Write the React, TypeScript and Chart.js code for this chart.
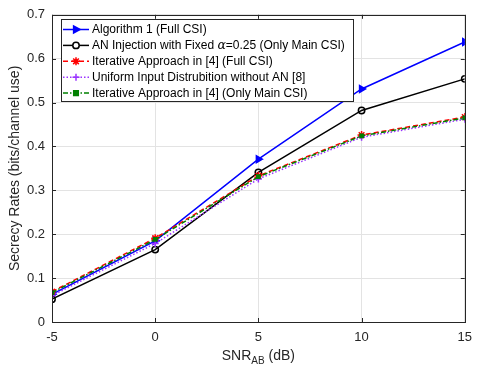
import React, { useEffect, useRef } from "react";
import { Chart, registerables } from "chart.js";

Chart.register(...registerables);

const snr = [-5, 0, 5, 10, 15];
const algorithm1 = [0.063, 0.185, 0.371, 0.531, 0.638];
const anFixed = [0.052, 0.165, 0.341, 0.482, 0.554];
const iterFull = [0.069, 0.191, 0.333, 0.426, 0.467];
const uniformNoAN = [0.06, 0.179, 0.326, 0.421, 0.462];
const iterMain = [0.067, 0.188, 0.331, 0.424, 0.465];
const yTickLabels = ["0", "0.1", "0.2", "0.3", "0.4", "0.5", "0.6", "0.7"];
const xTickLabels = ["-5", "0", "5", "10", "15"];
const legendLabels = [
  "Algorithm 1 (Full CSI)",
  "AN Injection with Fixed |α|=0.25 (Only Main CSI)",
  "Iterative Approach in [4] (Full CSI)",
  "Uniform Input Distrubition without AN [8]",
  "Iterative Approach in [4] (Only Main CSI)",
];

const FONT = "'Liberation Sans', Arial, Helvetica, sans-serif";

type S = {
  data: number[];
  color: string;
  dash: number[];
  style: string;
  radius: number;
  rotation: number;
  fill: boolean;
};

const seriesDefs: S[] = [
  { data: algorithm1, color: "#0000ff", dash: [], style: "triangle", radius: 4, rotation: 90, fill: true },
  { data: anFixed, color: "#000000", dash: [], style: "circle", radius: 3.2, rotation: 0, fill: false },
  { data: iterFull, color: "#ff0000", dash: [5, 3], style: "star", radius: 4, rotation: 0, fill: true },
  { data: uniformNoAN, color: "#9933ff", dash: [1.5, 2], style: "cross", radius: 3.5, rotation: 0, fill: false },
  { data: iterMain, color: "#008000", dash: [5, 2, 1.5, 2], style: "rect", radius: 2.3, rotation: 0, fill: true },
];

function drawPointSimple(ctx: CanvasRenderingContext2D, s: S, x: number, y: number) {
  const r = s.radius;
  ctx.beginPath();
  if (s.style === "triangle") {
    ctx.moveTo(x + r, y);
    ctx.lineTo(x - r * 0.6, y - r * 0.85);
    ctx.lineTo(x - r * 0.6, y + r * 0.85);
    ctx.closePath();
    ctx.fill();
    ctx.stroke();
  } else if (s.style === "circle") {
    ctx.arc(x, y, r, 0, Math.PI * 2);
    ctx.fill();
    ctx.stroke();
  } else if (s.style === "star") {
    for (let k = 0; k < 4; k++) {
      const a = (k * Math.PI) / 4;
      ctx.moveTo(x + Math.cos(a) * r, y + Math.sin(a) * r);
      ctx.lineTo(x - Math.cos(a) * r, y - Math.sin(a) * r);
    }
    ctx.stroke();
  } else if (s.style === "cross") {
    ctx.moveTo(x - r, y);
    ctx.lineTo(x + r, y);
    ctx.moveTo(x, y - r);
    ctx.lineTo(x, y + r);
    ctx.stroke();
  } else {
    ctx.rect(x - r, y - r, 2 * r, 2 * r);
    ctx.fill();
    ctx.stroke();
  }
}

const framePlugin = {
  id: "frame",
  afterDraw(chart: any) {
    const ctx: CanvasRenderingContext2D = chart.ctx;
    const { left, right, top, bottom } = chart.chartArea;
    const xs = chart.scales.x;
    const ys = chart.scales.y;
    ctx.save();
    ctx.strokeStyle = "#262626";
    ctx.lineWidth = 1;
    ctx.setLineDash([]);
    ctx.strokeRect(Math.round(left) + 0.5, Math.round(top) + 0.5, Math.round(right - left), Math.round(bottom - top));
    ctx.beginPath();
    for (let i = 0; i < yTickLabels.length; i++) {
      const py = Math.round(ys.getPixelForValue(i / 10)) + 0.5;
      ctx.moveTo(left, py);
      ctx.lineTo(left + 4, py);
      ctx.moveTo(right, py);
      ctx.lineTo(right - 4, py);
    }
    for (const v of snr) {
      const px = Math.round(xs.getPixelForValue(v)) + 0.5;
      ctx.moveTo(px, bottom);
      ctx.lineTo(px, bottom - 4);
      ctx.moveTo(px, top);
      ctx.lineTo(px, top + 4);
    }
    ctx.stroke();

    ctx.fillStyle = "#262626";
    ctx.font = `14px ${FONT}`;
    ctx.textBaseline = "middle";
    ctx.save();
    ctx.translate(15, (top + bottom) / 2);
    ctx.rotate(-Math.PI / 2);
    ctx.textAlign = "center";
    ctx.fillText("Secrecy Rates (bits/channel use)", 0, 0);
    ctx.restore();

    const main1 = "SNR";
    const sub = "AB";
    const main2 = " (dB)";
    ctx.font = `14px ${FONT}`;
    const w1 = ctx.measureText(main1).width;
    const w3 = ctx.measureText(main2).width;
    ctx.font = `10px ${FONT}`;
    const w2 = ctx.measureText(sub).width;
    const total = w1 + w2 + w3;
    const cx = (left + right) / 2;
    const x0 = cx - total / 2;
    const ty = 356;
    ctx.textAlign = "left";
    ctx.font = `14px ${FONT}`;
    ctx.fillText(main1, x0, ty);
    ctx.font = `10px ${FONT}`;
    ctx.fillText(sub, x0 + w1, ty + 5);
    ctx.font = `14px ${FONT}`;
    ctx.fillText(main2, x0 + w1 + w2, ty);

    const lx = 61.5, ly = 19.5, lw = 292, lh = 82;
    ctx.fillStyle = "#ffffff";
    ctx.fillRect(lx, ly, lw, lh);
    ctx.strokeStyle = "#262626";
    ctx.lineWidth = 1;
    ctx.strokeRect(lx, ly, lw, lh);
    for (let i = 0; i < seriesDefs.length; i++) {
      const s = seriesDefs[i];
      const ry = 29.5 + i * 15.9;
      ctx.strokeStyle = s.color;
      ctx.lineWidth = 1.5;
      ctx.setLineDash(s.dash);
      ctx.beginPath();
      ctx.moveTo(63, ry);
      ctx.lineTo(89, ry);
      ctx.stroke();
      ctx.setLineDash([]);
      ctx.fillStyle = s.fill ? s.color : "#ffffff";
      ctx.strokeStyle = s.color;
      ctx.lineWidth = 1.5;
      drawPointSimple(ctx, s, 76, ry);
      ctx.fillStyle = "#000000";
      ctx.textAlign = "left";
      ctx.textBaseline = "middle";
      const parts = legendLabels[i].split("|");
      let tx = 92;
      for (const p of parts) {
        if (p === "α") {
          ctx.font = `italic 12.5px 'DejaVu Serif', 'Liberation Serif', serif`;
        } else {
          ctx.font = `12px ${FONT}`;
        }
        ctx.fillText(p, tx, ry + 0.5);
        tx += ctx.measureText(p).width;
      }
    }
    ctx.restore();
  },
};

export default function App() {
  const ref = useRef<HTMLCanvasElement | null>(null);
  useEffect(() => {
    if (!ref.current) return;
    const order = [4, 3, 2, 1, 0];
    const chart = new Chart(ref.current, {
      type: "line",
      data: {
        datasets: seriesDefs.map((s, i) => ({
          label: legendLabels[i].replace(/\|/g, ""),
          data: s.data.map((v, j) => ({ x: snr[j], y: v })),
          borderColor: s.color,
          backgroundColor: s.fill ? s.color : "#ffffff",
          borderWidth: 1.5,
          borderDash: s.dash,
          pointStyle: s.style as any,
          pointRadius: s.radius,
          pointRotation: s.rotation,
          pointBorderWidth: 1.5,
          pointBorderColor: s.color,
          pointBackgroundColor: s.fill ? s.color : "rgba(0,0,0,0)",
          tension: 0,
          order: order[i],
        })),
      },
      options: {
        responsive: false,
        animation: false,
        layout: { padding: { top: 12, right: 11, left: 0, bottom: 0 } },
        plugins: { legend: { display: false }, tooltip: { enabled: false } },
        scales: {
          x: {
            type: "linear",
            min: -5,
            max: 15,
            border: { display: false },
            grid: { color: "#e3e3e3", drawTicks: false, lineWidth: 1 },
            ticks: {
              stepSize: 5,
              padding: 8,
              color: "#262626",
              font: { family: FONT, size: 13 },
              callback: (v: any) => {
                const idx = snr.indexOf(Number(v));
                return idx >= 0 ? xTickLabels[idx] : "";
              },
            },
            afterFit: (s: any) => {
              s.height = 50;
            },
          },
          y: {
            type: "linear",
            min: 0,
            max: 0.7,
            border: { display: false },
            grid: { color: "#e3e3e3", drawTicks: false, lineWidth: 1 },
            ticks: {
              stepSize: 0.1,
              padding: 7,
              color: "#262626",
              font: { family: FONT, size: 13 },
              callback: (v: any) => {
                const idx = Math.round(Number(v) * 10);
                return yTickLabels[idx] ?? "";
              },
            },
            afterFit: (s: any) => {
              s.width = 52;
            },
          },
        },
      },
      plugins: [framePlugin],
    });
    return () => chart.destroy();
  }, []);
  return (
    <canvas
      ref={ref}
      width={480}
      height={372}
      style={{ position: "absolute", left: 0, top: 0, width: 480, height: 372, background: "#fff" }}
    />
  );
}
